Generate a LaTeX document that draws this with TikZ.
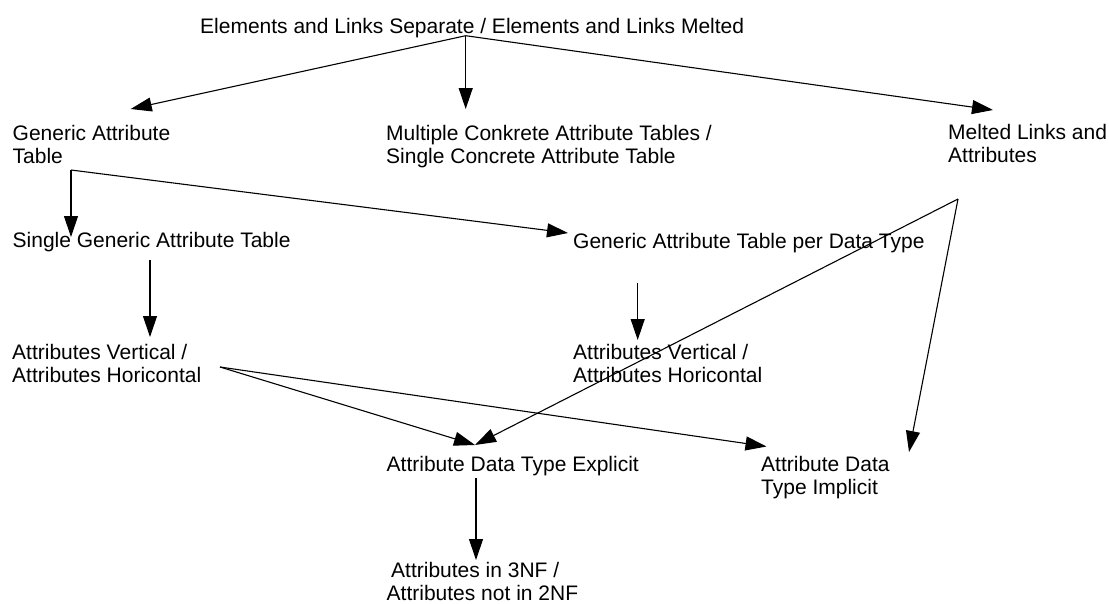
\documentclass[tikz,border=0pt]{standalone}
\usepackage{fontspec}
\setmainfont{Liberation Sans}
\usetikzlibrary{arrows.meta}

\begin{document}
\begin{tikzpicture}[x=1pt,y=-1pt,
  lbl/.style={anchor=base west, inner sep=0pt, align=left,
              font=\fontsize{21}{23}\selectfont},
  link/.style={line width=1.1pt, -{Triangle[length=21pt,width=14pt]}}]
\useasboundingbox (0,0) rectangle (1109,603);

% labels (the base anchor of a two-line label sits on its last line)
\node[lbl] (root)  at (200,33)    {Elements and Links Separate / Elements and Links Melted};
\node[lbl] (gat)   at (12.5,163)  {Generic Attribute\\Table};
\node[lbl] (mcat)  at (386,163)   {Multiple Conkrete Attribute Tables /\\Single Concrete Attribute Table};
\node[lbl] (mla)   at (948,162.5) {Melted Links and\\Attributes};
\node[lbl] (sgat)  at (12.5,247)  {Single Generic Attribute Table};
\node[lbl] (gatdt) at (573,248)   {Generic Attribute Table per Data Type};
\node[lbl] (avl)   at (12,382)    {Attributes Vertical /\\Attributes Horicontal};
\node[lbl] (avr)   at (573,382)   {Attributes Vertical /\\Attributes Horicontal};
\node[lbl] (adte)  at (386.5,471) {Attribute Data Type Explicit};
\node[lbl] (adti)  at (761,494)   {Attribute Data\\Type Implicit};
\node[lbl] (nf)    at (386.5,600) {\hspace*{4.5pt}Attributes in 3NF /\\Attributes not in 2NF};

% connector ports
\coordinate (root-out)  at (465.7,35.7);
\coordinate (gat-in)    at (130.7,109);
\coordinate (mcat-in)   at (465.7,109);
\coordinate (mla-in)    at (993,110);
\coordinate (gat-out)   at (71,170);
\coordinate (sgat-in)   at (71,237);
\coordinate (gatdt-in)  at (568,233);
\coordinate (sgat-out)  at (150,260);
\coordinate (avl-in)    at (150,337);
\coordinate (gatdt-out) at (637.7,283);
\coordinate (avr-in)    at (637.7,340);
\coordinate (mla-out)   at (958,199);
\coordinate (adte-in)   at (475,445);
\coordinate (adti-in)   at (909,452);
\coordinate (avl-out)   at (220,367);
\coordinate (adti-in2)  at (766.5,446.5);
\coordinate (adte-out)  at (476,478);
\coordinate (nf-in)     at (476,560);

% connectors
\draw[link] (root-out) -- (gat-in);
\draw[link] (root-out) -- (mcat-in);
\draw[link] (root-out) -- (mla-in);
\draw[link] (gat-out) -- (sgat-in);
\draw[link] (gat-out) -- (gatdt-in);
\draw[link] (sgat-out) -- (avl-in);
\draw[link] (gatdt-out) -- (avr-in);
\draw[link] (mla-out) -- (adte-in);
\draw[link] (mla-out) -- (adti-in);
\draw[link] (avl-out) -- (adte-in);
\draw[link] (avl-out) -- (adti-in2);
\draw[link] (adte-out) -- (nf-in);
\end{tikzpicture}
\end{document}
